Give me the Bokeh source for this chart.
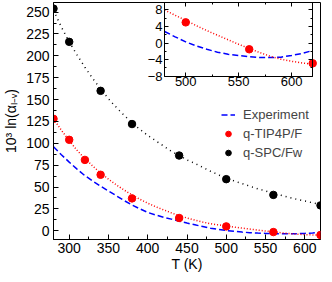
from bokeh.plotting import figure
from bokeh.models import (LinearAxis, Range1d, SingleIntervalTicker, Legend, LegendItem,
                          CustomJSTickFormatter)
from bokeh.embed import file_html
from bokeh.resources import INLINE

# ---------------- data ----------------
T_curve = [280, 290, 300, 310, 320, 330, 340, 350, 360, 370, 380, 390, 400, 410, 420, 430, 440,
           450, 460, 470, 480, 490, 500, 510, 520, 530, 540, 550, 560, 570, 580, 590, 600, 610, 620]
experiment = [96, 87, 78.5, 70.5, 63, 56.8, 51, 45.5, 40, 34.5, 29.5, 25, 21, 18, 15.5, 13.3, 11,
              8.8, 6.8, 4.8, 2.8, 1.5, 0.3, -0.7, -1.5, -2.2, -2.7, -3.0, -3.3, -3.5, -3.5, -3.4, -3.0, -2.5, -1.8]
tip4p_fit = [128, 115, 103, 92, 82.5, 74, 66, 59, 52.5, 46.5, 41, 36, 31.5, 27.5, 24, 20.5, 17.3,
             14.6, 12.1, 9.9, 8.0, 6.7, 5.5, 4.2, 3.0, 1.9, 0.8, -0.3, -1.3, -2.3, -3.2, -3.9, -4.4, -4.8, -5.1]
spc_fit = [252, 233, 216, 201, 187, 174, 162, 151, 141, 132, 123.5, 116, 109, 103, 97, 91, 86,
           81, 77, 72.5, 68, 64, 60, 57, 54, 51, 48, 45.5, 43, 40.5, 38, 36, 34, 32, 30]

T_tip4p = [280, 300, 320, 340, 380, 440, 500, 560, 620]
tip4p_pts = [128, 104, 81, 64, 37, 14.6, 5.0, -1.5, -4.9]
T_spc = [280, 300, 340, 380, 440, 500, 560, 620]
spc_pts = [254, 216, 160, 122, 86, 59, 41, 29]

x_ticks_interval = 50
y_ticks_interval = 25
inset_x_interval = 50
inset_y_interval = 4

# ---------------- layout ----------------
W, H = 324, 274
FL, FR, FT, FB = 46, 320, 2, 240       # main frame edges (canvas px)
IL, IR, IT, IB = 160, 312, 2, 76       # inset box (canvas px)
X0, X1 = 280, 620
Y0, Y1 = -10, 261
IX0, IX1 = 480, 620
IY0, IY1 = -8, 9.8

FONT = "Liberation Sans"

p = figure(width=W, height=H, output_backend="svg", toolbar_location=None,
           x_range=Range1d(X0, X1), y_range=Range1d(Y0, Y1),
           min_border_left=FL, min_border_right=W - FR, min_border_top=FT, min_border_bottom=H - FB)
p.background_fill_color = "white"
p.border_fill_color = "white"
p.outline_line_color = "black"
p.outline_line_width = 1
p.grid.visible = False

# inset ranges mapped onto the main frame
sx = (IR - IL) / (IX1 - IX0)
sy = (IB - IT) / (IY1 - IY0)
p.extra_x_ranges = {"ix": Range1d(IX0 - (IL - FL) / sx, IX1 + (FR - IR) / sx)}
p.extra_y_ranges = {"iy": Range1d(IY0 - (FB - IB) / sy, IY1 + (IT - FT) / sy)}

def style_axis(ax, size, tin, tmin, standoff):
    ax.major_tick_in = tin
    ax.major_tick_out = 0
    ax.minor_tick_in = tmin
    ax.minor_tick_out = 0
    ax.axis_line_color = "black"
    ax.major_tick_line_color = "black"
    ax.minor_tick_line_color = "black"
    ax.major_label_text_font = FONT
    ax.major_label_text_font_size = size
    ax.major_label_text_color = "black"
    ax.major_label_standoff = standoff

xa = p.xaxis[0]
ya = p.yaxis[0]
xa.ticker = SingleIntervalTicker(interval=x_ticks_interval, num_minor_ticks=2)
ya.ticker = SingleIntervalTicker(interval=y_ticks_interval, num_minor_ticks=2)
style_axis(xa, "14px", 5, 3, 3)
style_axis(ya, "14px", 5, 3, 4)
xa.axis_label = "T (K)"
ya.axis_label = "10³ ln(αₗ₋ᵥ)"
for ax in (xa, ya):
    ax.axis_label_text_font = FONT
    ax.axis_label_text_font_size = "14px"
    ax.axis_label_text_font_style = "normal"
    ax.axis_label_text_color = "black"
xa.axis_label_standoff = 0
ya.axis_label_standoff = 4

# ---------------- main curves and points ----------------
r_exp = p.line(T_curve, experiment, line_color="#0000ff", line_width=1.5, line_dash="6 3")
p.line(T_curve, tip4p_fit, line_color="#ff0000", line_width=1.5, line_dash="1 2")
p.line(T_curve, spc_fit, line_color="black", line_width=1.5, line_dash="1 4")
r_tip = p.scatter(T_tip4p, tip4p_pts, size=7.5, color="#ff0000")
r_spc = p.scatter(T_spc, spc_pts, size=7.5, color="black")

# ---------------- inset ----------------
iT = [t for t in T_curve if t >= IX0]
i_exp = [v for t, v in zip(T_curve, experiment) if t >= IX0]
i_tip = [v for t, v in zip(T_curve, tip4p_fit) if t >= IX0]
iTp = [t for t in T_tip4p if t >= IX0]
iTv = [v for t, v in zip(T_tip4p, tip4p_pts) if t >= IX0]

p.line(iT, i_exp, line_color="#0000ff", line_width=1.5, line_dash="6 3", x_range_name="ix", y_range_name="iy")
p.line(iT, i_tip, line_color="#ff0000", line_width=1.5, line_dash="1 2", x_range_name="ix", y_range_name="iy")
p.scatter(iTp, iTv, size=7.5, color="#ff0000", x_range_name="ix", y_range_name="iy")

blank = CustomJSTickFormatter(code="return ''")

ia_left = LinearAxis(x_range_name="ix", y_range_name="iy", fixed_location=IX0, bounds=(IY0, IY1),
                     ticker=SingleIntervalTicker(interval=inset_y_interval, num_minor_ticks=2))
style_axis(ia_left, "13px", 4, 2, 2)
p.add_layout(ia_left, "left")

ia_below = LinearAxis(x_range_name="ix", y_range_name="iy", fixed_location=IY0, bounds=(IX0, IX1),
                      ticker=SingleIntervalTicker(interval=inset_x_interval, num_minor_ticks=2))
style_axis(ia_below, "13px", 4, 2, 1)
p.add_layout(ia_below, "below")

ia_right = LinearAxis(x_range_name="ix", y_range_name="iy", fixed_location=IX1, bounds=(IY0, IY1),
                      ticker=SingleIntervalTicker(interval=inset_y_interval, num_minor_ticks=2),
                      formatter=blank)
style_axis(ia_right, "13px", 4, 2, 0)
p.add_layout(ia_right, "right")

ia_above = LinearAxis(x_range_name="ix", y_range_name="iy", fixed_location=IY1, bounds=(IX0, IX1),
                      ticker=SingleIntervalTicker(interval=inset_x_interval, num_minor_ticks=2),
                      formatter=blank)
style_axis(ia_above, "13px", 4, 2, 0)
p.add_layout(ia_above, "above")

# ---------------- legend ----------------
legend = Legend(items=[LegendItem(label="Experiment", renderers=[r_exp]),
                       LegendItem(label="q-TIP4P/F", renderers=[r_tip]),
                       LegendItem(label="q-SPC/Fw", renderers=[r_spc])],
                location=(168, 79), padding=0, margin=0, spacing=4,
                glyph_width=14, glyph_height=15, label_height=15, label_standoff=8,
                label_text_font=FONT, label_text_font_size="13px",
                border_line_color=None, background_fill_alpha=0)
p.add_layout(legend)

open("out.html", "w").write(file_html(p, INLINE))
